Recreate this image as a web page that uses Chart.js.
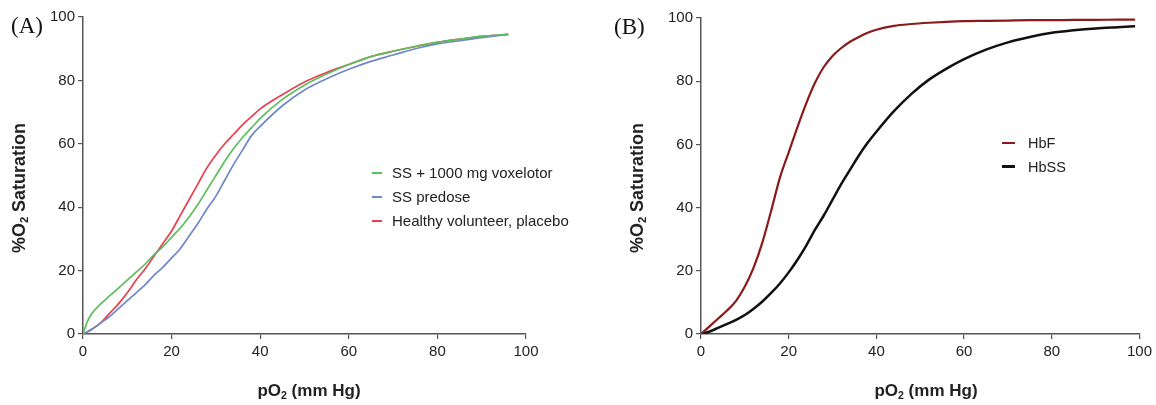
<!DOCTYPE html>
<html>
<head>
<meta charset="utf-8">
<script src="https://cdn.jsdelivr.net/npm/chart.js@4.4.1/dist/chart.umd.min.js"></script>
<style>
  html, body { margin: 0; padding: 0; background: #fff; }
  #wrap { position: relative; width: 1156px; height: 405px; overflow: hidden; }
  .panel { position: absolute; top: 0; width: 578px; height: 405px; }
  .tag { position: absolute; font-family: "Liberation Serif", "DejaVu Serif", serif; font-size: 23px; color: #111; }
</style>
</head>
<body>
<div id="wrap">
  <div class="panel" style="left:0"><canvas id="chartA" width="578" height="405"></canvas></div>
  <div class="panel" style="left:578px"><canvas id="chartB" width="578" height="405"></canvas></div>
  <div class="tag" style="left:11px; top:13px">(A)</div>
  <div class="tag" style="left:614px; top:14px">(B)</div>
</div>
<script>
// panel A - pO2 points and saturation curves
const pressureA = [0, 1, 2, 4, 6, 8, 10, 12, 14, 16, 18, 20, 22, 24, 26, 28, 30, 32, 34, 36, 38, 40, 45, 50, 55, 60, 65, 70, 75, 80, 85, 90, 96];
const voxelotor = [0, 4, 6.5, 9.5, 12, 14.5, 17, 19.5, 22, 25, 27.5, 30.5, 33.5, 37, 41, 45.5, 50, 54.5, 58.5, 62, 65, 68, 74, 78.5, 82, 85, 87.5, 89.2, 90.7, 92, 93, 93.9, 94.5];
const predose   = [0, 0.7, 1.5, 3.5, 5.5, 8, 10.5, 13, 15.5, 18.5, 21, 24, 27, 31, 35, 39.5, 43.5, 48.5, 53.5, 58, 62.5, 65.5, 72, 77, 80.5, 83.5, 86, 88, 90, 91.5, 92.5, 93.5, 94.5];
const healthy   = [0, 0.7, 1.5, 3.5, 6.5, 9.5, 13, 17, 20.5, 24.5, 28.5, 32.5, 37.5, 42.5, 47.5, 52.5, 56.5, 60, 63, 66, 68.5, 71, 75.5, 79.5, 82.5, 85, 87.5, 89.2, 90.7, 92, 93, 93.9, 94.5];

// panel B
const pressureB = [0, 2, 4, 6, 8, 10, 12, 14, 16, 18, 20, 22, 24, 26, 28, 30, 32, 34, 36, 38, 40, 44, 48, 52, 56, 60, 65, 70, 75, 80, 85, 90, 95, 99];
const hbF  = [0, 2.5, 5, 7.5, 10.5, 15, 21, 29, 39, 49.5, 57.5, 65.5, 73, 79.5, 84.5, 88, 90.5, 92.5, 94, 95.3, 96.3, 97.5, 98.1, 98.5, 98.8, 99, 99.1, 99.2, 99.3, 99.3, 99.4, 99.4, 99.5, 99.5];
const hbSS = [0, 0.8, 2, 3.2, 4.5, 6, 8, 10.3, 13, 16, 19.5, 23.5, 28, 33, 37.5, 42.5, 47.5, 52, 56.5, 60.5, 64, 70.5, 76, 80.5, 84, 87, 90, 92.3, 94, 95.3, 96.1, 96.7, 97.1, 97.4];

const xTicks = [0, 20, 40, 60, 80, 100];
const yTicks = [0, 20, 40, 60, 80, 100];

const axisColor = "#555";
const textColor = "#222";
const sans = "'Liberation Sans', Arial, sans-serif";

function pts(xs, ys) {
    return xs.map((x, i) => ({x: x, y: ys[i]}));
}

// legend drawn inside plot area at given place
const insideLegend = {
    id: "insideLegend",
    afterDraw(chart, args, opts) {
        const ctx = chart.ctx;
        ctx.save();
        ctx.font = opts.fontSize + "px " + sans;
        ctx.textBaseline = "middle";
        chart.data.datasets.forEach((ds, i) => {
            const y = opts.y + i * opts.gap;
            ctx.strokeStyle = ds.borderColor;
            ctx.lineWidth = opts.lineWidths[i];
            ctx.beginPath();
            ctx.moveTo(opts.x, y);
            ctx.lineTo(opts.x + opts.lineLen, y);
            ctx.stroke();
            ctx.fillStyle = textColor;
            ctx.fillText(ds.label, opts.x + opts.lineLen + opts.textGap, y + 1);
        });
        ctx.restore();
    }
};

// axis titles with a real subscript 2
function drawPieces(ctx, pieces, size) {
    let w = 0;
    pieces.forEach(p => {
        ctx.font = "bold " + (p.sub ? size * 0.62 : size) + "px " + sans;
        w += ctx.measureText(p.t).width;
    });
    let x = -w / 2;
    pieces.forEach(p => {
        ctx.font = "bold " + (p.sub ? size * 0.62 : size) + "px " + sans;
        ctx.fillText(p.t, x, p.sub ? size * 0.28 : 0);
        x += ctx.measureText(p.t).width;
    });
}

const axisTitles = {
    id: "axisTitles",
    afterDraw(chart, args, opts) {
        const ctx = chart.ctx;
        ctx.save();
        ctx.fillStyle = textColor;
        ctx.textBaseline = "middle";
        ctx.textAlign = "left";
        ctx.translate(opts.xTitle[0], opts.xTitle[1]);
        drawPieces(ctx, [{t: "pO"}, {t: "2", sub: true}, {t: " (mm Hg)"}], 17);
        ctx.restore();
        ctx.save();
        ctx.fillStyle = textColor;
        ctx.textBaseline = "middle";
        ctx.textAlign = "left";
        ctx.translate(opts.yTitle[0], opts.yTitle[1]);
        ctx.rotate(-Math.PI / 2);
        drawPieces(ctx, [{t: "%O"}, {t: "2", sub: true}, {t: " Saturation"}], 18);
        ctx.restore();
    }
};

function makeOptions(pad, legendOpts, titleOpts) {
    return {
        responsive: false,
        animation: false,
        layout: {padding: pad},
        elements: {point: {radius: 0}, line: {cubicInterpolationMode: "monotone"}},
        plugins: {
            legend: {display: false},
            tooltip: {enabled: false},
            insideLegend: legendOpts,
            axisTitles: titleOpts
        },
        scales: {
            x: {
                type: "linear",
                min: 0,
                max: 100,
                afterBuildTicks: (s) => { s.ticks = xTicks.map(v => ({value: v})); },
                afterFit: (s) => { s.height = 71; },
                border: {display: true, color: axisColor, width: 1.5},
                grid: {drawOnChartArea: false, color: axisColor, tickLength: 5, lineWidth: 1.2},
                ticks: {color: textColor, padding: 4, font: {size: 15, family: sans}}
            },
            y: {
                min: 0,
                max: 100,
                afterBuildTicks: (s) => { s.ticks = yTicks.map(v => ({value: v})); },
                afterFit: (s) => { s.width = 83; },
                border: {display: true, color: axisColor, width: 1.5},
                grid: {drawOnChartArea: false, color: axisColor, tickLength: 5, lineWidth: 1.2},
                ticks: {color: textColor, padding: 3, font: {size: 15, family: sans}}
            }
        }
    };
}

new Chart(document.getElementById("chartA"), {
    type: "line",
    data: {
        datasets: [
            {label: "SS + 1000 mg voxelotor", data: pts(pressureA, voxelotor), borderColor: "#5cbf5c", borderWidth: 1.7},
            {label: "SS predose", data: pts(pressureA, predose), borderColor: "#6f88c9", borderWidth: 1.7},
            {label: "Healthy volunteer, placebo", data: pts(pressureA, healthy), borderColor: "#e8404f", borderWidth: 1.7}
        ]
    },
    options: makeOptions({left: 0, right: 52, top: 17, bottom: 0},
        {x: 372, y: 173, gap: 24, lineLen: 10, textGap: 10, fontSize: 15, lineWidths: [2, 2, 2]},
        {xTitle: [309, 391], yTitle: [20, 188]}),
    plugins: [insideLegend, axisTitles]
});

new Chart(document.getElementById("chartB"), {
    type: "line",
    data: {
        datasets: [
            {label: "HbF", data: pts(pressureB, hbF), borderColor: "#8b1a1a", borderWidth: 2.2},
            {label: "HbSS", data: pts(pressureB, hbSS), borderColor: "#111", borderWidth: 2.5}
        ]
    },
    options: makeOptions({left: 40, right: 12, top: 18, bottom: 0},
        {x: 424, y: 143, gap: 23.5, lineLen: 13, textGap: 13, fontSize: 14.5, lineWidths: [2, 3]},
        {xTitle: [348, 391], yTitle: [60, 188]}),
    plugins: [insideLegend, axisTitles]
});
</script>
</body>
</html>
